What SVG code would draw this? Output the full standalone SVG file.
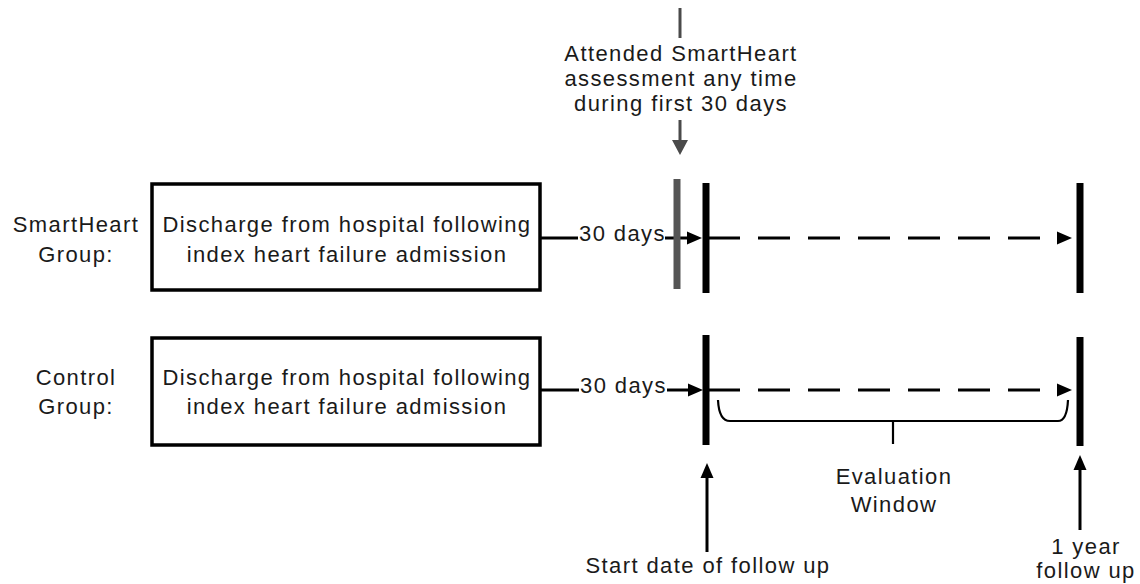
<svg xmlns="http://www.w3.org/2000/svg" width="1140" height="584" viewBox="0 0 1140 584">
  <style>
    .txt { font-family: "Liberation Sans", Arial, sans-serif; font-size: 22px; letter-spacing: 1.4px; fill: #1a1a1a; }
    .mid { text-anchor: middle; }
    .box { fill: #ffffff; stroke: #000000; stroke-width: 3.5; }
    .bar { stroke: #000000; stroke-width: 7; }
    .bar-grey { stroke: #555555; stroke-width: 7; }
    .line { fill: none; stroke: #000000; stroke-width: 3; }
    .dash { fill: none; stroke: #000000; stroke-width: 3; stroke-dasharray: 32 18; }
    .brace { fill: none; stroke: #000000; stroke-width: 2.2; }
    .grey-line { fill: none; stroke: #4a4a4a; stroke-width: 3; }
  </style>
  <defs>
    <marker id="head" markerUnits="userSpaceOnUse" markerWidth="16" markerHeight="14" refX="0" refY="7" orient="auto">
      <path d="M0,0.5 L15,7 L0,13.5 z" fill="#000000"/>
    </marker>
    <marker id="head-grey" markerUnits="userSpaceOnUse" markerWidth="16" markerHeight="16" refX="0" refY="8" orient="auto">
      <path d="M0,0 L15,8 L0,16 z" fill="#4a4a4a"/>
    </marker>
  </defs>

  <rect width="1140" height="584" fill="#ffffff"/>

  <!-- group labels -->
  <g id="label-smartheart">
    <text class="txt mid" x="76" y="232">SmartHeart</text>
    <text class="txt mid" x="76" y="262">Group:</text>
  </g>
  <g id="label-control">
    <text class="txt mid" x="76" y="385">Control</text>
    <text class="txt mid" x="76" y="414">Group:</text>
  </g>

  <!-- discharge boxes -->
  <g id="box-smartheart">
    <rect class="box" x="152" y="184" width="388" height="106"/>
    <text class="txt mid" x="347" y="232">Discharge from hospital following</text>
    <text class="txt mid" x="347" y="262">index heart failure admission</text>
  </g>
  <g id="box-control">
    <rect class="box" x="152" y="338" width="388" height="107"/>
    <text class="txt mid" x="347" y="385">Discharge from hospital following</text>
    <text class="txt mid" x="347" y="414">index heart failure admission</text>
  </g>

  <!-- assessment note above the SmartHeart timeline -->
  <g id="note-assessment">
    <text class="txt mid" x="681" y="61">Attended SmartHeart</text>
    <text class="txt mid" x="681" y="86">assessment any time</text>
    <text class="txt mid" x="681" y="111">during first 30 days</text>
  </g>

  <!-- connectors -->
  <g id="connectors">
    <line class="grey-line" x1="680" y1="8" x2="680" y2="38"/>
    <line class="grey-line" x1="680" y1="120" x2="680" y2="140" marker-end="url(#head-grey)"/>

    <line class="line" x1="540" y1="238" x2="578" y2="238"/>
    <line class="line" x1="665" y1="238" x2="687" y2="238" marker-end="url(#head)"/>
    <line class="dash" x1="708" y1="238" x2="1057" y2="238" marker-end="url(#head)"/>

    <line class="line" x1="540" y1="390" x2="579" y2="390"/>
    <line class="line" x1="667" y1="390" x2="688" y2="390" marker-end="url(#head)"/>
    <line class="dash" x1="708" y1="390" x2="1057" y2="390" marker-end="url(#head)"/>

    <line class="line" x1="707" y1="552" x2="707" y2="478" marker-end="url(#head)"/>
    <line class="line" x1="1080" y1="530" x2="1080" y2="470" marker-end="url(#head)"/>
  </g>

  <!-- 30 day labels -->
  <g id="label-30-days-1">
    <text class="txt" x="579" y="241">30 days</text>
  </g>
  <g id="label-30-days-2">
    <text class="txt" x="580" y="393">30 days</text>
  </g>

  <!-- timeline markers -->
  <g id="bar-assessment">
    <line class="bar-grey" x1="677" y1="179" x2="677" y2="289"/>
  </g>
  <g id="bar-start-1">
    <line class="bar" x1="706" y1="183" x2="706" y2="293"/>
  </g>
  <g id="bar-end-1">
    <line class="bar" x1="1080" y1="183" x2="1080" y2="293"/>
  </g>
  <g id="bar-start-2">
    <line class="bar" x1="706" y1="335" x2="706" y2="445"/>
  </g>
  <g id="bar-end-2">
    <line class="bar" x1="1080" y1="337" x2="1080" y2="446"/>
  </g>

  <!-- evaluation window brace -->
  <g id="brace-evaluation">
    <path class="brace" d="M718,400 Q719,421 730,421 L1058,421 Q1067,421 1068,400"/>
    <line class="brace" x1="893" y1="421" x2="893" y2="444"/>
    <text class="txt mid" x="894" y="484">Evaluation</text>
    <text class="txt mid" x="894" y="512">Window</text>
  </g>

  <!-- bottom labels -->
  <g id="label-start">
    <text class="txt mid" x="708" y="573">Start date of follow up</text>
  </g>
  <g id="label-one-year">
    <text class="txt mid" x="1086" y="554">1 year</text>
    <text class="txt mid" x="1086" y="578">follow up</text>
  </g>
</svg>
